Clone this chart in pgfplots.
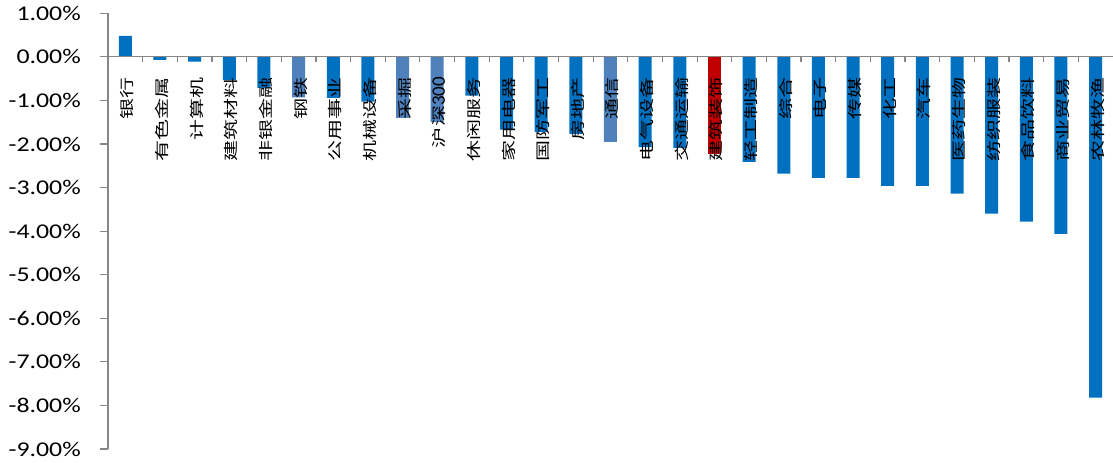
\documentclass[border=0pt]{standalone}
\usepackage{pgfplots}
\pgfplotsset{compat=1.18}
\usepackage{fontspec}
\setmainfont{Carlito}
\newfontfamily\numfont[FakeStretch=1.23]{Carlito}
\newfontfamily\plainnum{Carlito}
\newfontfamily\cjk[FakeStretch=1.45]{Noto Sans CJK SC}
\definecolor{mainblue}{HTML}{0070C0}
\definecolor{lightblue}{HTML}{4F81BD}
\definecolor{redbar}{HTML}{C00000}
\definecolor{axisgray}{HTML}{868686}
\begin{document}
\begin{tikzpicture}
\useasboundingbox (0,0) rectangle (1113bp,463bp);
\begin{axis}[
  at={(108bp,14bp)}, anchor=south west,
  scale only axis, width=1005bp, height=435.7bp,
  xmin=-0.5, xmax=28.5, ymin=-9, ymax=1,
  axis on top,
  axis x line=middle, axis y line=left,
  axis line style={draw=axisgray, line width=1.2bp, -},
  tick align=outside,
  ytick={-9,-8,...,1},
  major tick length=8bp,
  minor tick length=5bp,
  tick style={draw=axisgray, line width=1.2bp},
  major x tick style={draw=none},
  minor xtick={0.5,1.5,...,27.5},
  /pgf/number format/assume math mode=true,
  yticklabel={\pgfmathprintnumber[fixed,fixed zerofill,precision=2]{\tick}\%},
  yticklabel style={font=\numfont\fontsize{21bp}{21bp}\selectfont, anchor=east, inner sep=0pt, xshift=-19bp, text=black},
  xtick={0,1,...,28},
  xticklabels={银行,有色金属,计算机,建筑材料,非银金融,钢铁,公用事业,机械设备,采掘,{沪深\plainnum\fontsize{19bp}{19bp}\selectfont 300},休闲服务,家用电器,国防军工,房地产,通信,电气设备,交通运输,建筑装饰,轻工制造,综合,电子,传媒,化工,汽车,医药生物,纺织服装,食品饮料,商业贸易,农林牧渔},
  xticklabel style={font=\cjk\fontsize{14.5bp}{15bp}\selectfont, xshift=2bp, rotate=90, anchor=east, inner sep=0pt, text=black},
  xticklabel shift=12bp,
  clip=false,
]
\addplot[ybar, bar width=13bp, bar shift=0pt, fill=mainblue, draw=none] coordinates {
 (0,0.48) (1,-0.07) (2,-0.11) (3,-0.53) (4,-0.71) (6,-0.94) (7,-1.03)
 (10,-0.89) (11,-1.67) (12,-1.72) (13,-1.77) (15,-2.07) (16,-2.09) (18,-2.41)
 (19,-2.68) (20,-2.78) (21,-2.78) (22,-2.96) (23,-2.96) (24,-3.14) (25,-3.60)
 (26,-3.78) (27,-4.06) (28,-7.82)};
\addplot[ybar, bar width=13bp, bar shift=0pt, fill=lightblue, draw=none] coordinates {
 (5,-0.93) (8,-1.40) (9,-1.49) (14,-1.95)};
\addplot[ybar, bar width=13bp, bar shift=0pt, fill=redbar, draw=none] coordinates {
 (17,-2.22)};
\end{axis}
\end{tikzpicture}
\end{document}
